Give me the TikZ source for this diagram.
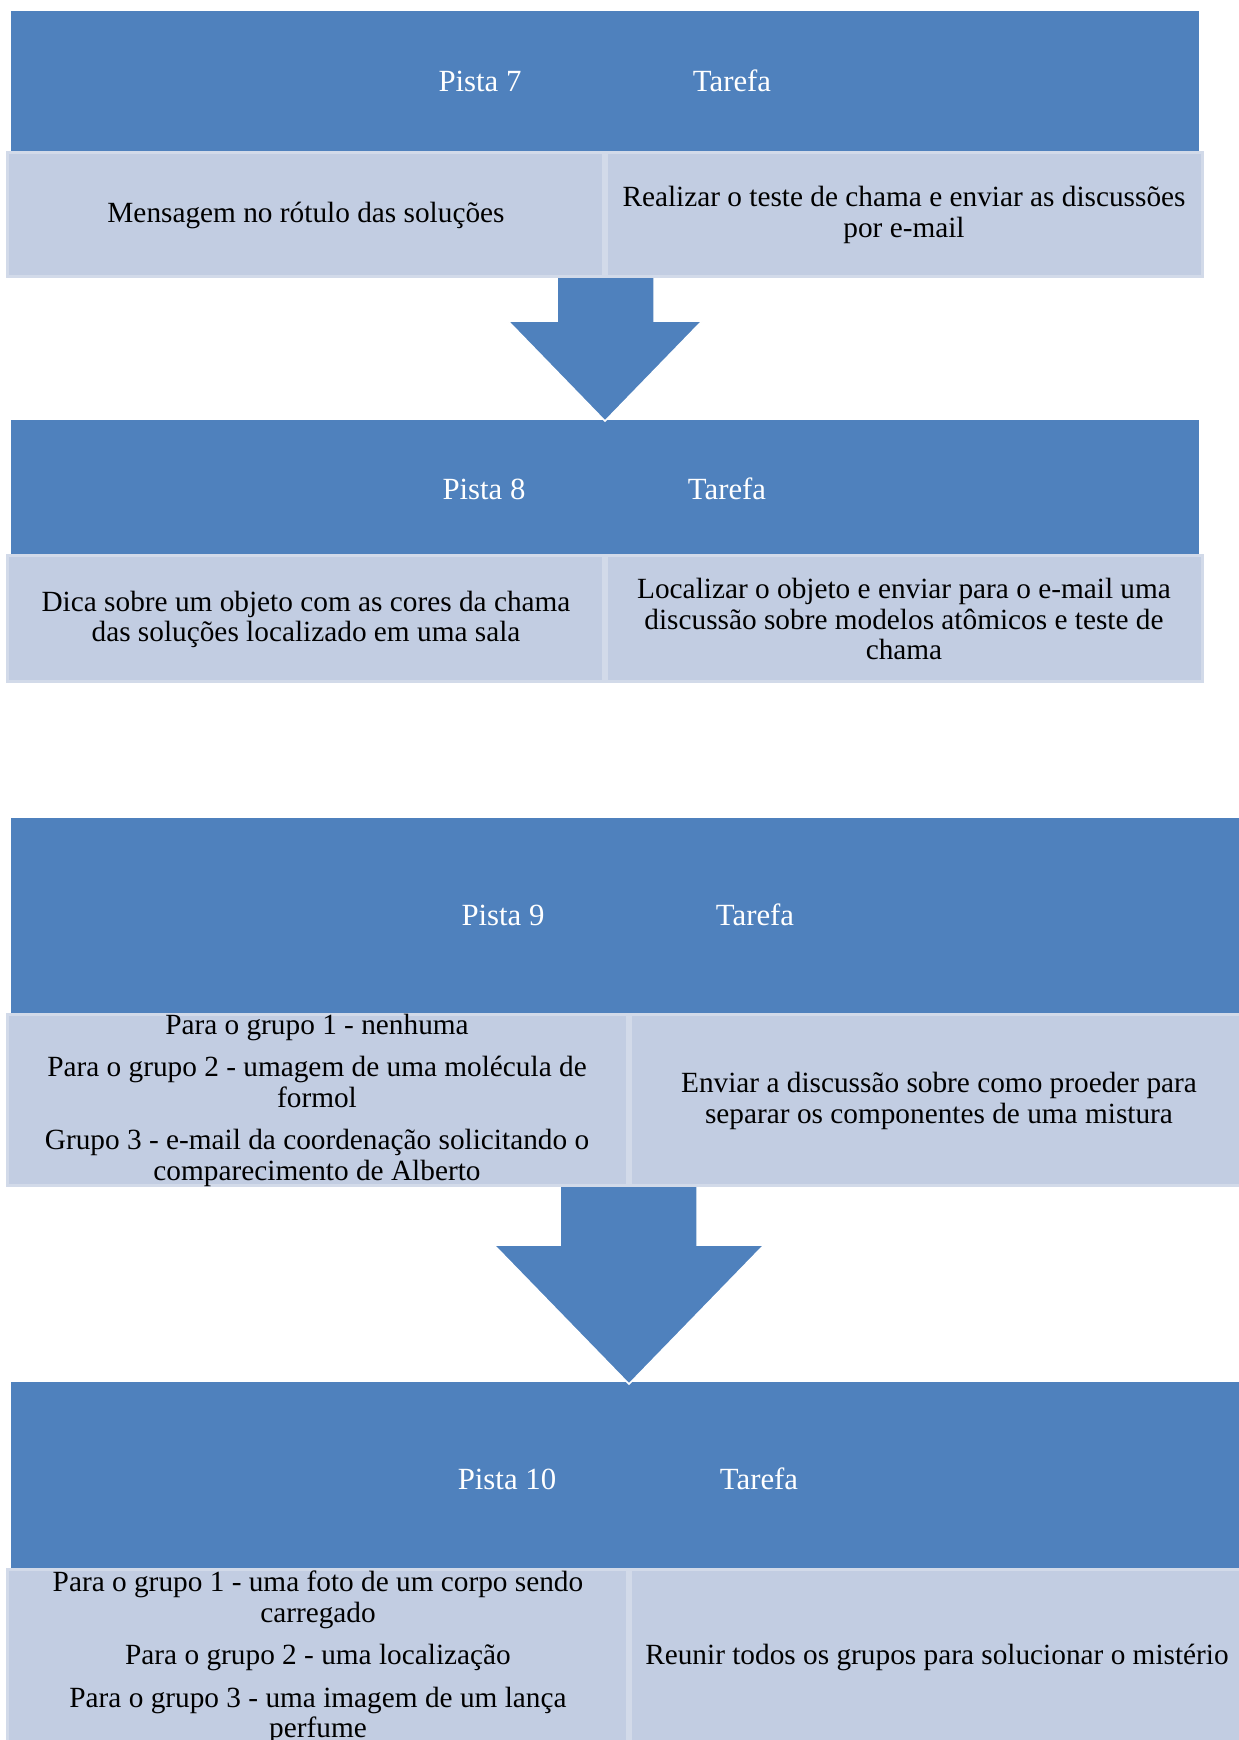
\documentclass[tikz,border=0pt]{standalone}
\usepackage{fontspec}
\setmainfont{Liberation Serif}
\definecolor{hdr}{RGB}{79,129,189}
\definecolor{cellfill}{RGB}{194,205,226}
\definecolor{cellline}{RGB}{210,218,233}
\tikzset{
  header/.style={rectangle, fill=hdr, draw=none, inner sep=0pt, outer sep=0pt},
  cellbox/.style={rectangle, fill=cellfill, draw=cellline, line width=3pt, inner sep=0pt, outer sep=0pt},
  htext/.style={text=white, font=\fontsize{30.8}{32}\selectfont, inner sep=0pt},
  ctext/.style={text=black, font=\fontsize{29.3}{30.5}\selectfont, align=center, inner sep=0pt},
  blockarrow/.style={fill=hdr, draw=none},
  arrowedge/.style={draw=white, line width=1.5pt, line join=miter},
}
\begin{document}
\begin{tikzpicture}[x=1pt,y=-1pt]
\useasboundingbox (0,0) rectangle (1239,1740);
\clip (0,0) rectangle (1239,1740);
\fill[white] (0,0) rectangle (1239,1740);

% ---------- Section 1 ----------
\node[header, minimum width=1188pt, minimum height=140pt] (h7) at (605,81) {};
\node[cellbox, minimum width=596pt, minimum height=124pt] (c7a) at (305.5,214.5) {};
\node[cellbox, minimum width=596pt, minimum height=124pt] (c7b) at (904.5,214.5) {};
\node[htext] (p7) at (480,81) {Pista 7};
\node[htext] (t7) at (732,81) {Tarefa};
\node[ctext] (c7l) at (306,215) {Mensagem no rótulo das soluções};
\node[ctext] (c7r) at (904,215) {Realizar o teste de chama e enviar as discussões\\por e-mail};

% ---------- Section 2 ----------
\node[header, minimum width=1188pt, minimum height=134pt] (h8) at (605,487) {};
\node[cellbox, minimum width=596pt, minimum height=126pt] (c8a) at (305.5,618.5) {};
\node[cellbox, minimum width=596pt, minimum height=126pt] (c8b) at (904.5,618.5) {};
\node[htext] (p8) at (484,489) {Pista 8};
\node[htext] (t8) at (727,489) {Tarefa};
\node[ctext] (c8l) at (306,619.5) {Dica sobre um objeto com as cores da chama\\das soluções localizado em uma sala};
\node[ctext] (c8r) at (904,619) {Localizar o objeto e enviar para o e-mail uma\\discussão sobre modelos atômicos e teste de\\chama};

% ---------- Arrow 1 ----------
\coordinate (a1sl) at (557,278);
\coordinate (a1bl) at (557,321);
\coordinate (a1hl) at (508,321);
\coordinate (a1tip) at (605,421);
\coordinate (a1hr) at (702,321);
\coordinate (a1br) at (654,321);
\coordinate (a1sr) at (654,278);
\fill[blockarrow] (a1sl) -- (a1bl) -- (a1hl) -- (a1tip) -- (a1hr) -- (a1br) -- (a1sr) -- cycle;
\draw[arrowedge] (a1sl) -- (a1bl) -- (a1hl) -- (a1tip) -- (a1hr) -- (a1br) -- (a1sr);

% ---------- Section 3 ----------
\node[header, minimum width=1239pt, minimum height=195pt] (h9) at (630.5,915.5) {};
\node[cellbox, minimum width=620pt, minimum height=171pt] (c9a) at (317.5,1100) {};
\node[cellbox, minimum width=618pt, minimum height=171pt] (c9b) at (939.5,1100) {};
\node[htext] (p9) at (503,915) {Pista 9};
\node[htext] (t9) at (755,915) {Tarefa};
\node[ctext] (c9l) at (317,1100) {Para o grupo 1 - nenhuma\\[12pt]Para o grupo 2 - umagem de uma molécula de\\formol\\[12pt]Grupo 3 - e-mail da coordenação solicitando o\\comparecimento de Alberto};
\node[ctext] (c9r) at (939,1101) {Enviar a discussão sobre como proeder para\\separar os componentes de uma mistura};

% ---------- Arrow 2 ----------
\coordinate (a2sl) at (560,1187);
\coordinate (a2bl) at (560,1245);
\coordinate (a2hl) at (494,1245);
\coordinate (a2tip) at (629,1384);
\coordinate (a2hr) at (764,1245);
\coordinate (a2br) at (697,1245);
\coordinate (a2sr) at (697,1187);

% ---------- Section 4 ----------
\node[header, minimum width=1239pt, minimum height=186pt] (h10) at (630.5,1475) {};
\node[cellbox, minimum width=620pt, minimum height=175pt] (c10a) at (317.5,1657) {};
\node[cellbox, minimum width=618pt, minimum height=175pt] (c10b) at (939.5,1657) {};
\node[htext] (p10) at (507,1479) {Pista 10};
\node[htext] (t10) at (759,1479) {Tarefa};
\node[ctext] (c10l) at (318,1657.5) {Para o grupo 1 - uma foto de um corpo sendo\\carregado\\[12pt]Para o grupo 2 - uma localização\\[12pt]Para o grupo 3 - uma imagem de um lança\\perfume};
\node[ctext] (c10r) at (937,1657) {Reunir todos os grupos para solucionar o mistério};

\fill[blockarrow] (a2sl) -- (a2bl) -- (a2hl) -- (a2tip) -- (a2hr) -- (a2br) -- (a2sr) -- cycle;
\draw[arrowedge] (a2sl) -- (a2bl) -- (a2hl) -- (a2tip) -- (a2hr) -- (a2br) -- (a2sr);
\end{tikzpicture}
\end{document}
